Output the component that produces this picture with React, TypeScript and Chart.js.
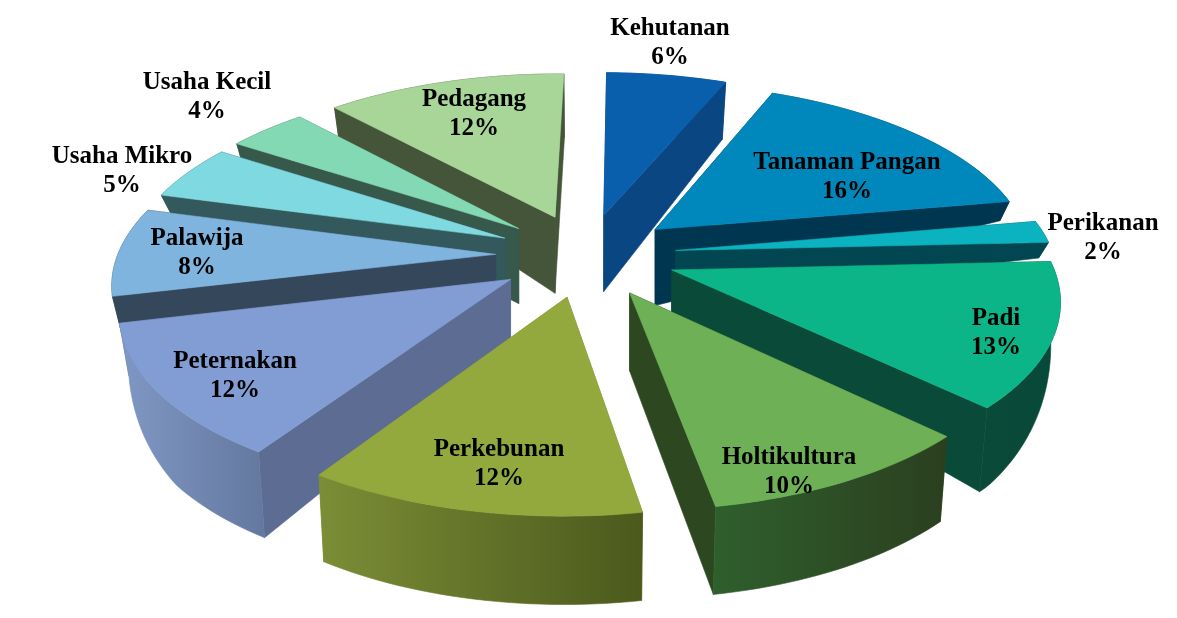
import React, { useEffect, useRef } from "react";
import { Chart, registerables } from "chart.js";

Chart.register(...registerables);

const categories = ["Kehutanan", "Tanaman Pangan", "Perikanan", "Padi", "Holtikultura", "Perkebunan", "Peternakan", "Palawija", "Usaha Mikro", "Usaha Kecil", "Pedagang"];
const shares = [6, 16, 2, 13, 10, 12, 12, 8, 5, 4, 12];
const topColors = ["#0a5fad", "#0088bd", "#0bb2c0", "#0cb587", "#6db055", "#93a83d", "#829dd4", "#7fb4df", "#7fd9e0", "#84d9b5", "#a8d699"];
const sideColors = ["#0a4682", "#00364f", "#014650", "#0a4a38", "#2d4821", "#7f9438", "#5c6c93", "#34475b", "#34595c", "#37594c", "#44553a"];
const rimFrom = ["#0a4682", "#00364f", "#014650", "#0a4a38", "#2f5f2d", "#7c8d36", "#7f98c4", "#34475b", "#34595c", "#37594c", "#44553a"];
const rimTo = ["#0a4682", "#00364f", "#014650", "#07493a", "#2b3f1f", "#4b591c", "#64789f", "#34475b", "#34595c", "#37594c", "#44553a"];
const apexDrop = [76, 76, 50, 46, 78, 76, 60, 50, 60, 75, 76];
const labelAt = [[670, 29], [847, 163], [1103, 224], [996, 319], [789, 458], [499, 450], [235, 362], [197, 239], [122, 157], [207, 83], [474, 100]];

const CX = 586, CY = 255, RX = 378, RY = 174, P = 0.144;

function project(u: number, v: number, z: number): [number, number] {
  const w = 1 / (1 - P * v);
  const clamp = Math.max(0, Math.min(1, 1 - 1.33 * v));
  const depth = Math.max(15, 76 + 10 * v - 39 * u * u * clamp);
  return [CX + RX * u * w - 8 * u * z, CY + RY * v * w + depth * z];
}

const pie3d = {
  id: "pie3d",
  beforeDatasetDraw(chart: any) {
    const ctx = chart.ctx;
    const els = chart.getDatasetMeta(0).data;
    const order = els.map((_: any, i: number) => i).sort((a: number, b: number) => {
      const m = (e: any) => Math.sin((e.startAngle + e.endAngle) / 2);
      return m(els[a]) - m(els[b]);
    });
    const path = (pts: number[][], fill: any) => {
      ctx.beginPath();
      pts.forEach((p, i) => (i ? ctx.lineTo(p[0], p[1]) : ctx.moveTo(p[0], p[1])));
      ctx.closePath();
      ctx.fillStyle = fill;
      ctx.fill();
      ctx.strokeStyle = fill;
      ctx.lineWidth = 0.6;
      ctx.stroke();
    };
    for (const i of order) {
      const e = els[i];
      const mid = (e.startAngle + e.endAngle) / 2;
      const off = e.options.offset / e.outerRadius;
      const ax = off * Math.cos(mid), ay = off * Math.sin(mid);
      const n = Math.max(6, Math.round((e.endAngle - e.startAngle) * 40));
      const rim: number[][] = [];
      for (let k = 0; k <= n; k++) {
        const t = e.startAngle + ((e.endAngle - e.startAngle) * k) / n;
        rim.push([ax + Math.cos(t), ay + Math.sin(t)]);
      }
      const top = rim.map((q) => project(q[0], q[1], 0));
      const bottom = rim.map((q) => project(q[0], q[1], 1));
      const a0 = project(ax, ay, 0);
      const a1: [number, number] = [a0[0], a0[1] + apexDrop[i]];
      path([a0, top[0], bottom[0], a1], sideColors[i]);
      path([a0, top[n], bottom[n], a1], sideColors[i]);
      const xs = top.concat(bottom).map((p) => p[0]);
      const g = ctx.createLinearGradient(Math.min(...xs), 0, Math.max(...xs), 0);
      g.addColorStop(0, rimFrom[i]);
      g.addColorStop(1, rimTo[i]);
      path(top.concat(bottom.slice().reverse()), g);
      path([a0, ...top], e.options.backgroundColor);
    }
    ctx.save();
    ctx.fillStyle = "#000";
    ctx.textAlign = "center";
    ctx.textBaseline = "middle";
    ctx.font = "bold 25px 'Liberation Serif'";
    categories.forEach((c, i) => {
      ctx.fillText(c, labelAt[i][0], labelAt[i][1]);
      ctx.fillText(shares[i] + "%", labelAt[i][0], labelAt[i][1] + 29);
    });
    ctx.restore();
    return false;
  },
};

export default function App() {
  const ref = useRef<HTMLCanvasElement>(null);
  useEffect(() => {
    const chart = new Chart(ref.current!, {
      type: "pie",
      data: {
        labels: categories,
        datasets: [{ data: shares, backgroundColor: topColors, offset: 66, borderWidth: 0 }],
      },
      options: {
        animation: false,
        responsive: false,
        rotation: 0.9,
        events: [],
        plugins: { legend: { display: false }, tooltip: { enabled: false } },
      },
      plugins: [pie3d],
    } as any);
    return () => chart.destroy();
  }, []);
  return <canvas ref={ref} width={1177} height={618} style={{ position: "absolute", left: 0, top: 0, background: "#fff" }} />;
}
